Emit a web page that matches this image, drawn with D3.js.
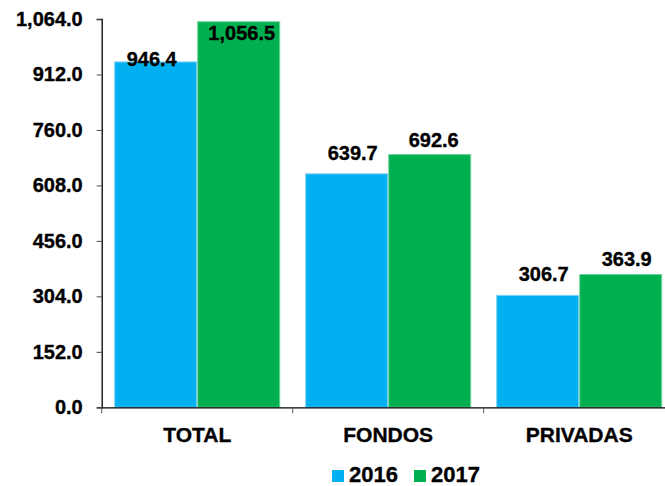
<!DOCTYPE html>
<html><head><meta charset="utf-8">
<script src="https://cdn.jsdelivr.net/npm/d3@7"></script>
<style>body{margin:0;background:#fff}svg{display:block}text{font-family:"Liberation Sans",Arial,sans-serif;font-weight:bold;fill:#000;stroke:#000;stroke-width:0.35px}</style>
</head><body>
<svg id="c" width="665" height="486"></svg>
<script>
const categories = ["TOTAL", "FONDOS", "PRIVADAS"];
const seriesNames = ["2016", "2017"];
const values2016 = [946.4, 639.7, 306.7];
const values2017 = [1056.5, 692.6, 363.9];
const yTicks = [0, 152, 304, 456, 608, 760, 912, 1064];
const colors = ["#00B0F0", "#00B050"];
const strokes = ["#7FD3F5", "#6FD49C"];

// layout tweaks for value labels (dx, dy relative to bar top)
const labelNudge = [
  [[-4, 4], [6, -14], [6, -14]],
  [[3, 18], [4, -8], [6, -8]]
];

const svg = d3.select("#c");
const x0 = 101.7, x1 = 101.7 + 3 * 191, yTop = 19, yBot = 407.3;
const x = d3.scaleBand().domain(categories).range([x0, x1]).paddingInner(25/191).paddingOuter(12.5/191);
const xs = d3.scaleBand().domain(seriesNames).range([0, x.bandwidth()]);
const y = d3.scaleLinear().domain([0, 1064]).range([yBot, yTop]);
const series = [values2016, values2017];

// bars
series.forEach((vals, si) => {
  svg.append("g").selectAll("rect").data(vals).join("rect")
    .attr("x", (d, i) => x(categories[i]) + xs(seriesNames[si]) + 0.5)
    .attr("y", d => y(d))
    .attr("width", xs.bandwidth() - 1)
    .attr("height", d => yBot - y(d))
    .attr("fill", colors[si])
    .attr("stroke", strokes[si])
    .attr("stroke-width", 1);
});

// y axis
const yAxis = d3.axisLeft(y).tickValues(yTicks).tickSize(5).tickPadding(14)
  .tickFormat(d3.format(",.1f"));
const gy = svg.append("g").attr("transform", `translate(${x0},0)`).call(yAxis);
gy.select(".domain").attr("stroke", "#000").attr("stroke-width", 1.3);
gy.selectAll(".tick line").attr("stroke", "#444");
gy.selectAll(".tick text").attr("font-size", 20).attr("font-family", "Liberation Sans, Arial, sans-serif").attr("font-weight", "bold").attr("fill", "#000");

// x axis
const xAxis = d3.axisBottom(x).tickSize(0).tickPadding(20);
const gx = svg.append("g").attr("transform", `translate(0,${yBot})`).call(xAxis);
gx.select(".domain").attr("stroke", "#000").attr("stroke-width", 1.3);
gx.selectAll(".tick text").attr("font-size", 21).attr("font-family", "Liberation Sans, Arial, sans-serif").attr("font-weight", "bold").attr("fill", "#000").attr("dy", "0.71em");
// category boundary ticks
const bounds = d3.range(categories.length + 1).map(i => x0 + i * x.step());
svg.append("g").selectAll("line").data(bounds).join("line")
  .attr("x1", d => d).attr("x2", d => d).attr("y1", yBot).attr("y2", yBot + 6)
  .attr("stroke", "#555").attr("stroke-width", 1);

// value labels
const fmt = d3.format(",.1f");
series.forEach((vals, si) => {
  svg.append("g").selectAll("text").data(vals).join("text")
    .attr("x", (d, i) => x(categories[i]) + xs(seriesNames[si]) + xs.bandwidth() / 2 + labelNudge[si][i][0])
    .attr("y", (d, i) => y(d) + labelNudge[si][i][1])
    .attr("text-anchor", "middle")
    .attr("font-size", 20)
    .text(d => fmt(d));
});

// legend
const legend = svg.append("g").attr("transform", "translate(332,470)");
const legX = [0, 82];
seriesNames.forEach((s, i) => {
  legend.append("rect").attr("x", legX[i]).attr("y", 0).attr("width", 12).attr("height", 12).attr("fill", colors[i]).attr("stroke", "none");
  legend.append("text").attr("x", legX[i] + 17).attr("y", 12).attr("font-size", 22).text(s);
});
</script>
</body></html>
